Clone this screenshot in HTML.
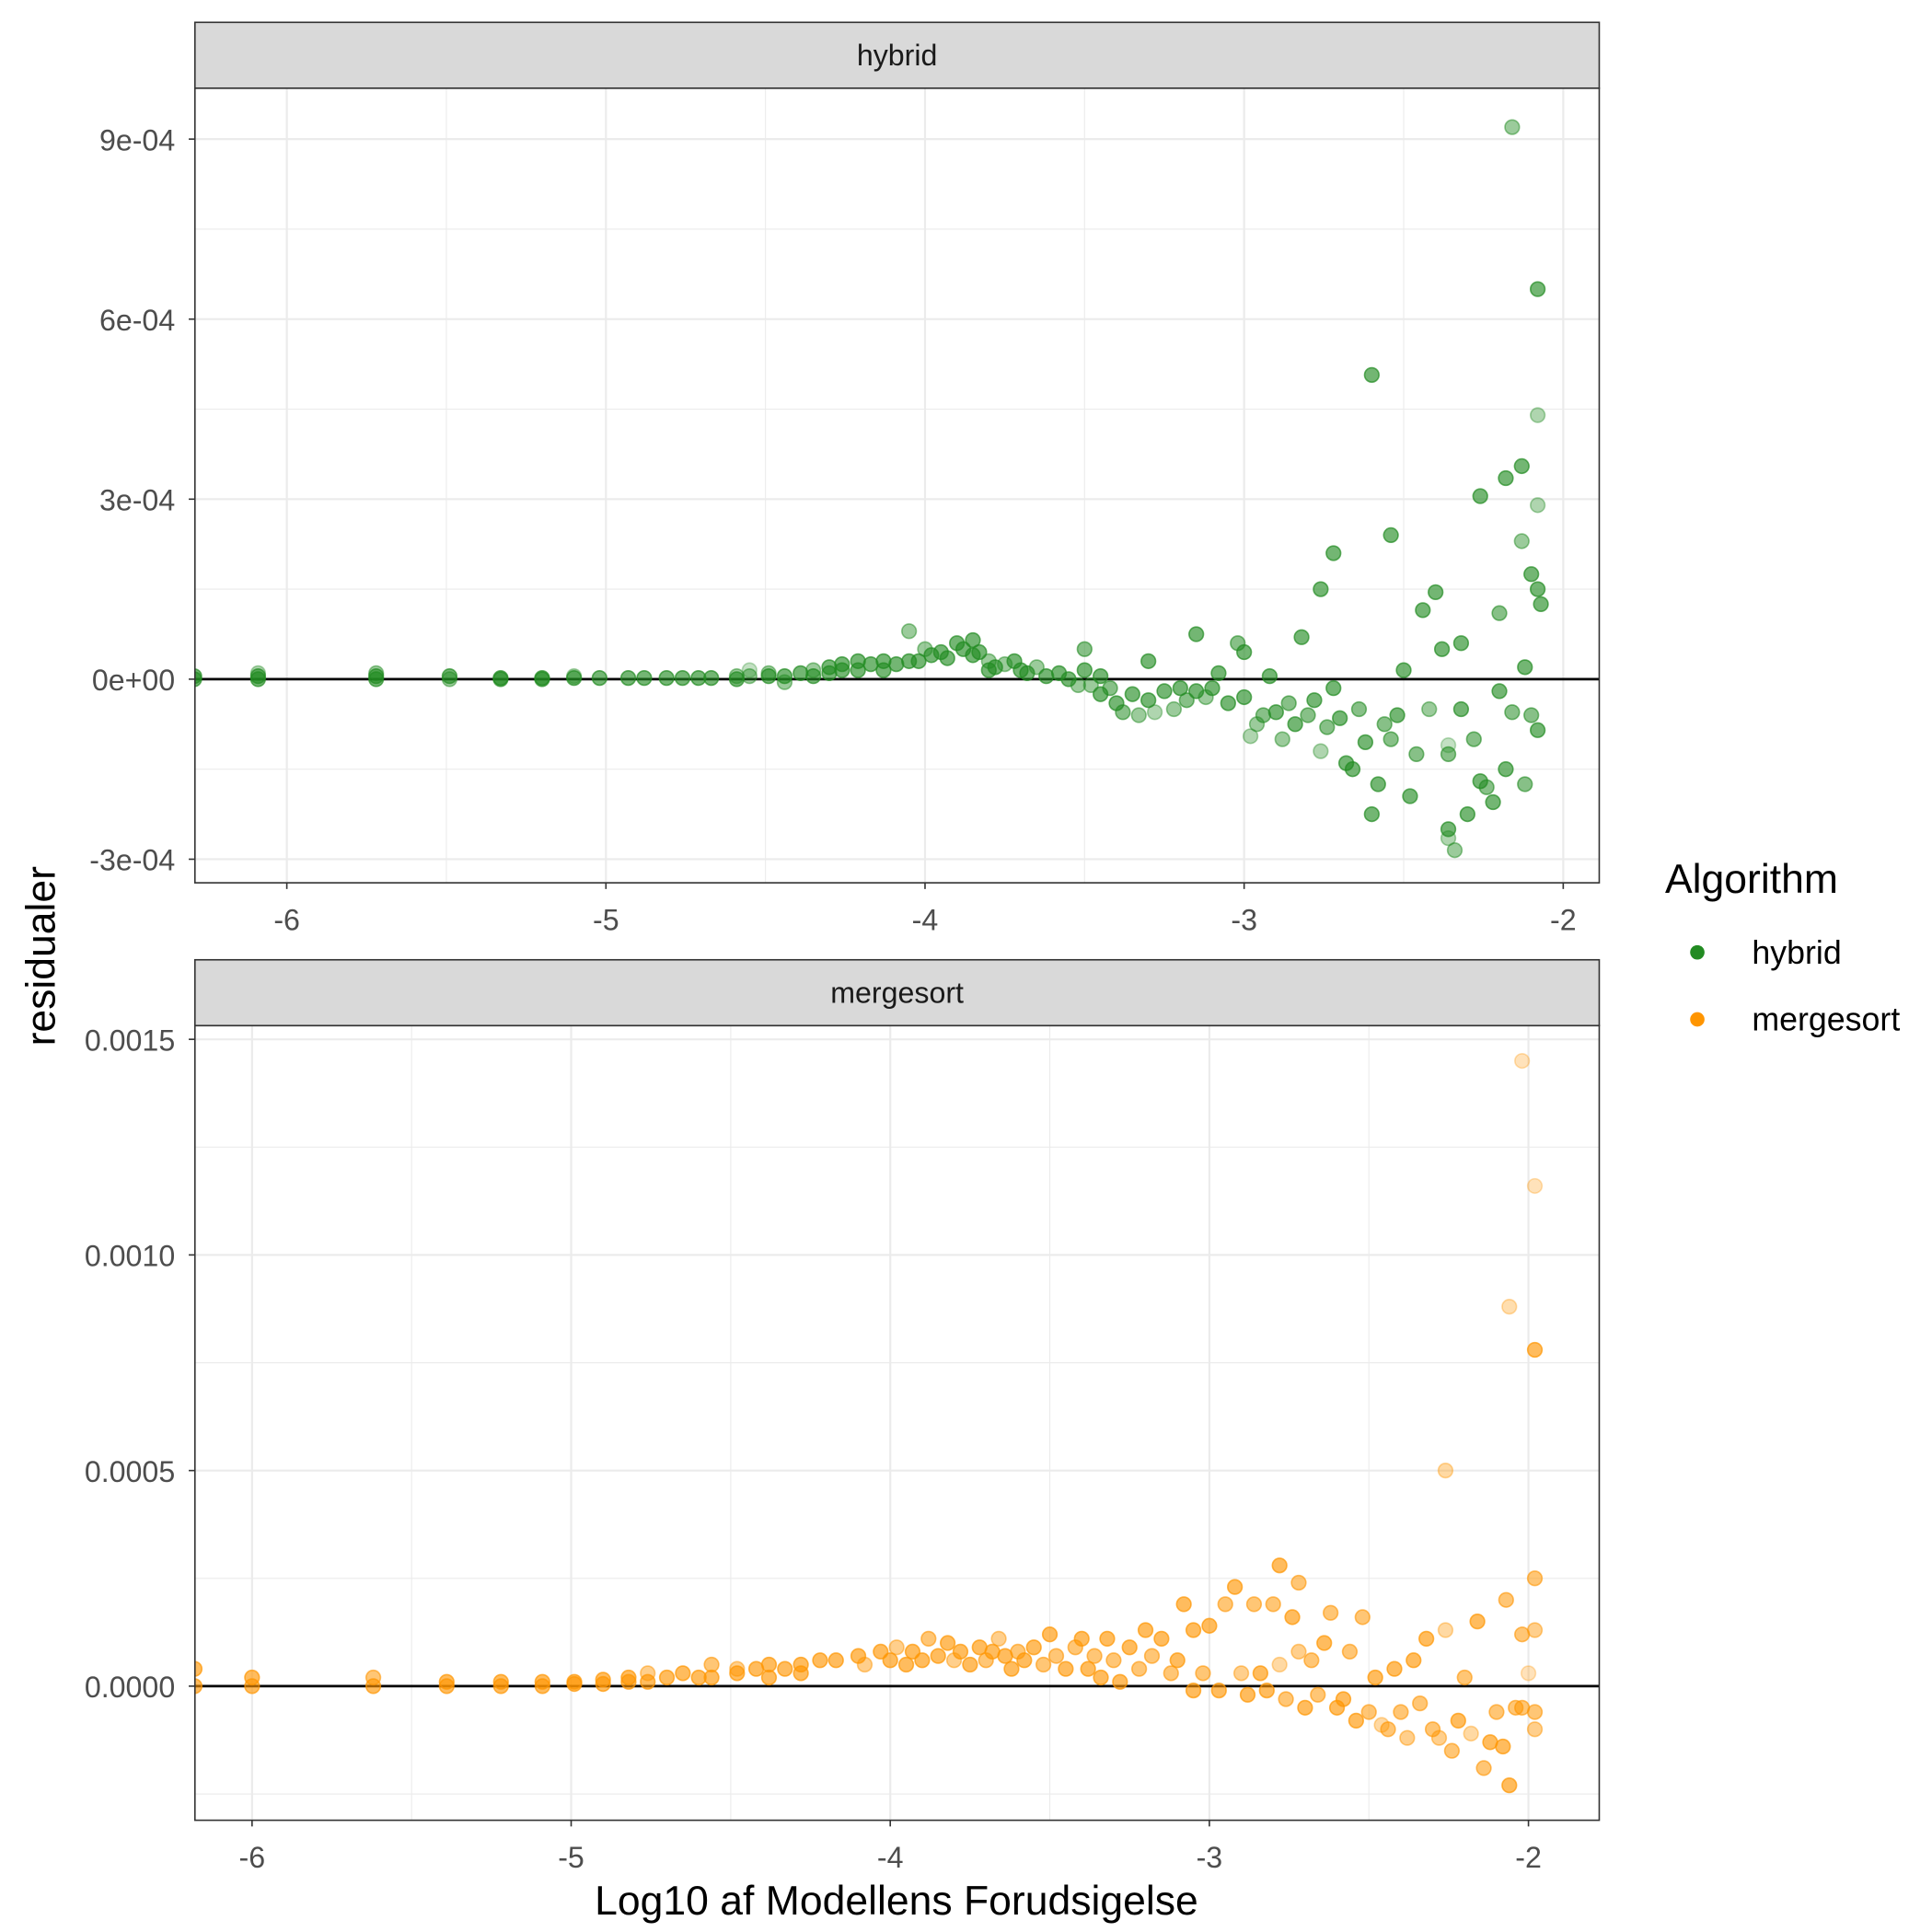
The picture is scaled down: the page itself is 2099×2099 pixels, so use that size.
<!DOCTYPE html>
<html><head><meta charset="utf-8"><style>html,body{margin:0;padding:0;background:#fff}svg{display:block}</style></head>
<body>
<svg id="chart" width="2099" height="2099" viewBox="0 0 1556 1556" xmlns="http://www.w3.org/2000/svg" font-family="Liberation Sans, sans-serif">
</svg>
<script>
const hx=[
-6.29,-6.29,-6.09,-6.09,-6.09,-5.72,-5.72,-5.72,-5.49,-5.49,
-5.33,-5.33,-5.20,-5.20,-5.10,-5.10,-5.02,-4.93,-4.88,-4.81,
-4.76,-4.71,-4.67,-4.59,-4.59,-4.55,-4.55,-4.49,-4.49,-4.44,
-4.44,-4.39,-4.35,-4.35,-4.30,-4.30,-4.26,-4.26,-4.21,-4.21,
-4.17,-4.13,-4.13,-4.09,-4.05,-4.05,-4.02,-4.00,-3.98,-3.95,
-3.93,-3.90,-3.88,-3.85,-3.85,-3.83,-3.80,-3.80,-3.78,-3.75,
-3.72,-3.70,-3.68,-3.65,-3.62,-3.58,-3.55,-3.52,-3.50,-3.50,
-3.48,-3.45,-3.45,-3.42,-3.40,-3.38,-3.35,-3.33,-3.30,-3.30,
-3.28,-3.25,-3.22,-3.20,-3.18,-3.15,-3.15,-3.12,-3.10,-3.08,
-3.05,-3.02,-3.00,-3.00,-2.98,-2.96,-2.94,-2.92,-2.90,-2.88,
-2.86,-2.84,-2.82,-2.80,-2.78,-2.76,-2.76,-2.74,-2.72,-2.72,
-2.70,-2.68,-2.66,-2.64,-2.62,-2.60,-2.60,-2.58,-2.56,-2.54,
-2.54,-2.52,-2.50,-2.48,-2.46,-2.44,-2.42,-2.40,-2.38,-2.36,
-2.36,-2.34,-2.32,-2.32,-2.30,-2.28,-2.26,-2.26,-2.24,-2.22,
-2.20,-2.20,-2.18,-2.18,-2.16,-2.16,-2.13,-2.13,-2.12,-2.12,
-2.10,-2.10,-2.08,-2.08,-2.08,-2.08,-2.07,-2.36,-2.36,-2.08];
const hy=[
0.05,0,0.05,0,0.1,0.05,0,0.1,0.05,0,
0.02,0,0.02,0,0.02,0.05,0.02,0.02,0.02,0.02,
0.02,0.02,0.02,0,0.05,0.05,0.15,0.05,0.1,0.05,
-0.05,0.1,0.05,0.15,0.2,0.1,0.25,0.15,0.3,0.15,
0.25,0.3,0.15,0.25,0.8,0.3,0.3,0.5,0.4,0.45,
0.35,0.6,0.5,0.65,0.4,0.45,0.3,0.15,0.2,0.25,
0.3,0.15,0.1,0.2,0.05,0.1,0,-0.1,0.5,0.15,
-0.1,0.05,-0.25,-0.15,-0.4,-0.55,-0.25,-0.6,0.3,-0.35,
-0.55,-0.2,-0.5,-0.15,-0.35,0.75,-0.2,-0.3,-0.15,0.1,
-0.4,0.6,0.45,-0.3,-0.95,-0.75,-0.6,0.05,-0.55,-1.0,
-0.4,-0.75,0.7,-0.6,-0.35,1.5,-1.2,-0.8,2.1,-0.15,
-0.65,-1.4,-1.5,-0.5,-1.05,5.07,-2.25,-1.75,-0.75,2.4,
-1.0,-0.6,0.15,-1.95,-1.25,1.15,-0.5,1.45,0.5,-2.5,
-1.25,-2.85,0.6,-0.5,-2.25,-1.0,3.05,-1.7,-1.8,-2.05,
1.1,-0.2,3.35,-1.5,-0.55,9.2,3.55,2.3,0.2,-1.75,
1.75,-0.6,6.5,4.4,2.9,1.5,1.25,-2.65,-1.1,-0.85];
const ha=[
0.7,0.7,0.7,0.7,0.4,0.7,0.7,0.5,0.7,0.5,
0.7,0.7,0.7,0.7,0.7,0.4,0.7,0.7,0.7,0.7,
0.7,0.7,0.7,0.7,0.5,0.5,0.3,0.7,0.5,0.7,
0.5,0.7,0.7,0.5,0.7,0.7,0.7,0.7,0.7,0.7,
0.7,0.7,0.7,0.7,0.5,0.7,0.7,0.5,0.7,0.7,
0.7,0.7,0.7,0.7,0.7,0.7,0.5,0.7,0.7,0.5,
0.7,0.7,0.7,0.5,0.7,0.7,0.7,0.5,0.6,0.7,
0.5,0.7,0.7,0.6,0.7,0.6,0.7,0.5,0.7,0.7,
0.4,0.7,0.5,0.7,0.6,0.7,0.7,0.5,0.7,0.7,
0.7,0.6,0.7,0.7,0.4,0.5,0.6,0.7,0.7,0.5,
0.6,0.7,0.7,0.6,0.7,0.7,0.4,0.6,0.7,0.7,
0.7,0.7,0.7,0.6,0.7,0.7,0.7,0.7,0.6,0.7,
0.6,0.7,0.7,0.7,0.6,0.7,0.5,0.7,0.7,0.7,
0.6,0.5,0.7,0.7,0.7,0.6,0.7,0.7,0.6,0.7,
0.6,0.7,0.7,0.7,0.6,0.5,0.7,0.5,0.7,0.6,
0.7,0.6,0.7,0.4,0.4,0.7,0.7,0.4,0.3,0.7];
const mx=[
-6.18,-6.18,-6.00,-6.00,-5.62,-5.62,-5.39,-5.39,-5.22,-5.22,
-5.09,-5.09,-4.99,-4.99,-4.90,-4.90,-4.82,-4.82,-4.76,-4.76,
-4.70,-4.65,-4.60,-4.56,-4.56,-4.48,-4.48,-4.42,-4.38,-4.38,
-4.33,-4.28,-4.28,-4.22,-4.17,-4.10,-4.08,-4.03,-4.00,-3.98,
-3.95,-3.93,-3.90,-3.88,-3.85,-3.82,-3.80,-3.78,-3.75,-3.72,
-3.70,-3.68,-3.66,-3.64,-3.62,-3.60,-3.58,-3.55,-3.52,-3.50,
-3.48,-3.45,-3.42,-3.40,-3.38,-3.36,-3.34,-3.32,-3.30,-3.28,
-3.25,-3.22,-3.20,-3.18,-3.15,-3.12,-3.10,-3.08,-3.05,-3.05,
-3.02,-3.00,-2.97,-2.95,-2.92,-2.90,-2.88,-2.86,-2.84,-2.82,
-2.80,-2.78,-2.78,-2.76,-2.74,-2.72,-2.72,-2.70,-2.68,-2.66,
-2.64,-2.62,-2.60,-2.58,-2.56,-2.54,-2.52,-2.50,-2.48,-2.46,
-2.44,-2.42,-2.40,-2.38,-2.36,-2.34,-2.32,-2.30,-2.28,-2.26,
-2.26,-2.24,-2.22,-2.20,-2.18,-2.16,-2.14,-2.12,-2.10,-2.08,
-2.07,-2.06,-2.06,-2.04,-2.02,-2.02,-2.02,-2.00,-1.98,-1.98,
-1.98,-1.98,-1.98,-1.98];
const my=[
0.4,0,0.2,0,0.2,0,0.1,0,0.1,0,
0.1,0,0.1,0.05,0.15,0.05,0.2,0.1,0.3,0.1,
0.2,0.3,0.2,0.5,0.2,0.4,0.3,0.4,0.5,0.2,
0.4,0.5,0.3,0.6,0.6,0.7,0.5,0.8,0.6,0.9,
0.5,0.8,0.6,1.1,0.7,1.0,0.6,0.8,0.5,0.9,
0.6,0.8,1.1,0.7,0.4,0.8,0.6,0.9,0.5,1.2,
0.7,0.4,0.9,1.1,0.4,0.7,0.2,1.1,0.6,0.1,
0.9,0.4,1.3,0.7,1.1,0.3,0.6,1.9,1.3,-0.1,
0.3,1.4,-0.1,1.9,2.3,0.3,-0.2,1.9,0.3,-0.1,
1.9,2.8,0.5,-0.3,1.6,2.4,0.8,-0.5,0.6,-0.2,
1.0,1.7,-0.5,-0.3,0.8,-0.8,1.6,-0.6,0.2,-0.9,
-1.0,0.4,-0.6,-1.2,0.6,-0.4,1.1,-1.0,-1.2,5.0,
1.3,-1.5,-0.8,0.2,-1.1,1.5,-1.9,-1.3,-0.6,-1.4,
2.0,8.8,-2.3,-0.5,14.5,1.2,-0.5,0.3,7.8,2.5,
11.6,1.3,-0.6,-1.0];
const ma=[
0.7,0.7,0.7,0.7,0.6,0.7,0.7,0.7,0.7,0.7,
0.7,0.7,0.7,0.7,0.7,0.7,0.7,0.7,0.5,0.7,
0.7,0.7,0.7,0.6,0.7,0.5,0.7,0.7,0.7,0.7,
0.7,0.7,0.7,0.7,0.7,0.7,0.5,0.7,0.7,0.5,
0.7,0.7,0.7,0.6,0.7,0.7,0.5,0.7,0.7,0.7,
0.6,0.7,0.5,0.7,0.7,0.6,0.7,0.7,0.6,0.7,
0.6,0.7,0.6,0.7,0.7,0.6,0.7,0.7,0.6,0.7,
0.7,0.6,0.7,0.6,0.7,0.6,0.7,0.7,0.7,0.7,
0.6,0.7,0.7,0.6,0.7,0.5,0.7,0.6,0.7,0.7,
0.6,0.7,0.4,0.6,0.7,0.6,0.5,0.7,0.6,0.6,
0.7,0.6,0.7,0.7,0.6,0.7,0.6,0.6,0.7,0.4,
0.6,0.7,0.6,0.5,0.7,0.6,0.7,0.6,0.5,0.4,
0.4,0.6,0.7,0.6,0.4,0.7,0.6,0.7,0.6,0.7,
0.6,0.35,0.7,0.6,0.3,0.6,0.6,0.3,0.7,0.6,
0.3,0.5,0.6,0.5];
const xTicks=[-6,-5,-4,-3,-2];
const hYTicks=[-3,0,3,6,9];
const hYLabels=["-3e-04","0e+00","3e-04","6e-04","9e-04"];
const mYTicks=[0,5,10,15];
const mYLabels=["0.0000","0.0005","0.0010","0.0015"];

const svg=document.getElementById('chart');
const NS='http://www.w3.org/2000/svg';
function mk(tag,attrs,parent){const e=document.createElementNS(NS,tag);for(const k in attrs)e.setAttribute(k,attrs[k]);(parent||svg).appendChild(e);return e;}
function txt(s,attrs,parent){const e=mk('text',attrs,parent);e.textContent=s;return e;}
const FS=26.5;

function panel(cfg){
  const g=mk('g',{});
  
  
  const L=157,R=1288,T=cfg.top,B=cfg.bottom;
  const sx=v=>cfg.x0+(v-(-6))*257;
  const sy=v=>cfg.y0-v*cfg.ky;
  const cp='clip-'+cfg.name;
  const cd=mk('clipPath',{id:cp},g);
  mk('rect',{x:L,y:T,width:R-L,height:B-T},cd);
  for(let v=-6.5;v<=-1.5;v+=1){const x=sx(v);if(x>L&&x<R)mk('line',{x1:x,x2:x,y1:T,y2:B,stroke:'#EBEBEB','stroke-width':0.8},g);}
  cfg.yminor.forEach(v=>{const y=sy(v);if(y>T&&y<B)mk('line',{x1:L,x2:R,y1:y,y2:y,stroke:'#EBEBEB','stroke-width':0.8},g);});
  xTicks.forEach(v=>{const x=sx(v);mk('line',{x1:x,x2:x,y1:T,y2:B,stroke:'#EBEBEB','stroke-width':1.6},g);});
  cfg.yt.forEach(v=>{const y=sy(v);mk('line',{x1:L,x2:R,y1:y,y2:y,stroke:'#EBEBEB','stroke-width':1.6},g);});
  mk('line',{x1:L,x2:R,y1:sy(0),y2:sy(0),stroke:'#000','stroke-width':2},g);
  const pg=mk('g',{'clip-path':'url(#'+cp+')'},g);
  
  
  cfg.xs.forEach((v,i)=>{
    const c=mk('circle',{cx:sx(v),cy:sy(cfg.ys[i]),r:5.8,fill:cfg.color,'fill-opacity':cfg.as[i]*0.9,stroke:cfg.color,'stroke-opacity':cfg.as[i],'stroke-width':1.2},pg);
    
    
  });
  const bd=mk('rect',{x:L,y:T,width:R-L,height:B-T,fill:'none',stroke:'#333','stroke-width':1.2},g);
  
  
  const st=mk('rect',{x:L,y:cfg.stripTop,width:R-L,height:T-cfg.stripTop,fill:'#D9D9D9',stroke:'#333','stroke-width':1.2},g);
  
  
  const sl=txt(cfg.name,{x:(L+R)/2,y:(cfg.stripTop+T)/2+8,'text-anchor':'middle','font-size':FS*0.9,fill:'#1A1A1A'},g);
  
  
  xTicks.forEach(v=>{const x=sx(v);mk('line',{x1:x,x2:x,y1:B,y2:B+5,stroke:'#333','stroke-width':1.2},g);
    const t=txt(String(v),{x:x,y:B+38,'text-anchor':'middle','font-size':FS*0.9,fill:'#4D4D4D'},g);
    
    });
  cfg.yt.forEach((v,i)=>{const y=sy(v);mk('line',{x1:L-5,x2:L,y1:y,y2:y,stroke:'#333','stroke-width':1.2},g);
    const t=txt(cfg.yl[i],{x:L-16,y:y+9,'text-anchor':'end','font-size':FS*0.9,fill:'#4D4D4D'},g);
    
    });
}
panel({name:'hybrid',top:71,bottom:711,stripTop:18,x0:231,y0:547,ky:48.33,yt:hYTicks,yl:hYLabels,yminor:[-4.5,-1.5,1.5,4.5,7.5,10.5],xs:hx,ys:hy,as:ha,color:'#228B22'});
panel({name:'mergesort',top:826,bottom:1466,stripTop:773,x0:203,y0:1358,ky:34.73,yt:mYTicks,yl:mYLabels,yminor:[-2.5,2.5,7.5,12.5],xs:mx,ys:my,as:ma,color:'#FF9500'});

const xt=txt('Log10 af Modellens Forudsigelse',{x:722,y:1542,'text-anchor':'middle','font-size':33,fill:'#000'});


const yt=txt('residualer',{x:0,y:0,'text-anchor':'middle','font-size':33,fill:'#000',transform:'translate(44,770) rotate(-90)'});


const lg=mk('g',{});


const lt=txt('Algorithm',{x:1341,y:719,'font-size':33,fill:'#000'},lg);


[['hybrid','#228B22',767],['mergesort','#FF9500',821]].forEach(([n,c,y])=>{
  const e=mk('g',{},lg);
  
  
  mk('circle',{cx:1367,cy:y,r:5.8,fill:c},e);
  txt(n,{x:1411,y:y+9,'font-size':FS,fill:'#000'},e);
});
</script>
</body></html>
